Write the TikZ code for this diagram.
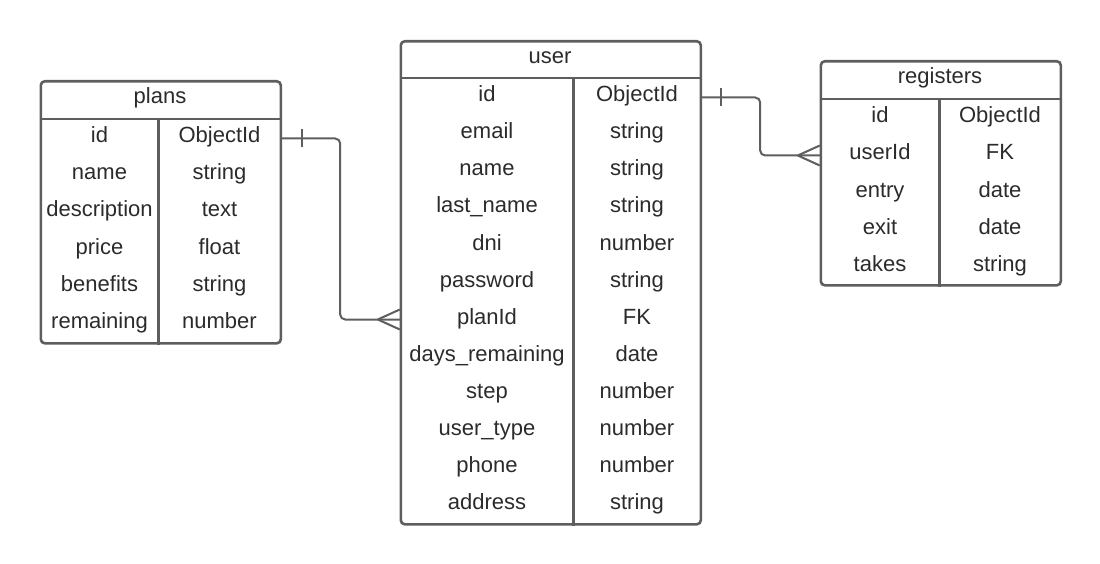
\documentclass[tikz,border=0pt]{standalone}
\usepackage{fontspec}
\setmainfont{Liberation Sans}
\definecolor{linec}{HTML}{5E5E5E}
\definecolor{txt}{HTML}{2B2B2B}
\begin{document}
\begin{tikzpicture}[x=1pt,y=-1pt,
  tbl/.style={draw=linec, line width=2.6pt, rounded corners=4pt, inner sep=0pt, anchor=north west},
  sep/.style={draw=linec, line width=2.6pt},
  cell/.style={inner sep=0pt, minimum height=37pt, text height=15pt, text depth=6pt, text=txt, font=\fontsize{22}{26}\selectfont},
  conn/.style={draw=linec, line width=2pt},
]
\useasboundingbox (0,0) rectangle (1100,564);

% ---- plans ----
\node[tbl, minimum width=240pt, minimum height=262pt] (plans) at (39.5,80) {};
\node[cell] (plans-h) at (160,99) {plans};
\draw[sep] ([yshift=-39pt]plans.north west) -- ([yshift=-39pt]plans.north east);
\draw[sep] ([xshift=119pt,yshift=-39pt]plans.north west) -- ([xshift=119pt]plans.south west);
\foreach [count=\i] \a/\b in {id/ObjectId, name/string, description/text, price/float, benefits/string, remaining/number} {
  \node[cell, minimum width=119pt] (plans-n\i) at (99.5,{119+37*\i-17.5}) {\a};
  \node[cell, minimum width=121pt] (plans-t\i) at (219.5,{119+37*\i-17.5}) {\b};
}

% ---- user ----
\node[tbl, minimum width=300pt, minimum height=483pt] (user) at (399.5,40) {};
\node[cell] (user-h) at (550,59) {user};
\draw[sep] ([yshift=-38pt]user.north west) -- ([yshift=-38pt]user.north east);
\draw[sep] ([xshift=174pt,yshift=-38pt]user.north west) -- ([xshift=174pt]user.south west);
\foreach [count=\i] \a/\b in {id/ObjectId, email/string, name/string, last\_name/string, dni/number, password/string, planId/FK, days\_remaining/date, step/number, user\_type/number, phone/number, address/string} {
  \node[cell, minimum width=174pt] (user-n\i) at (487,{78+37*\i-17.5}) {\a};
  \node[cell, minimum width=126pt] (user-t\i) at (637,{78+37*\i-17.5}) {\b};
}

% ---- registers ----
\node[tbl, minimum width=240pt, minimum height=224pt] (reg) at (819.5,60) {};
\node[cell] (reg-h) at (940,79) {registers};
\draw[sep] ([yshift=-39pt]reg.north west) -- ([yshift=-39pt]reg.north east);
\draw[sep] ([xshift=120pt,yshift=-39pt]reg.north west) -- ([xshift=120pt]reg.south west);
\foreach [count=\i] \a/\b in {id/ObjectId, userId/FK, entry/date, exit/date, takes/string} {
  \node[cell, minimum width=120pt] (reg-n\i) at (880,{99+37*\i-17.5}) {\a};
  \node[cell, minimum width=120pt] (reg-t\i) at (1000,{99+37*\i-17.5}) {\b};
}

% ---- connectors ----
% plans.id -> user.planId (one to many)
\draw[conn, rounded corners=5pt] (plans-t1.east) -- ++(60,0) |- (user-n7.west);
\draw[conn] ([xshift=22pt,yshift=-9pt]plans-t1.east) -- ([xshift=22pt,yshift=9pt]plans-t1.east);
\draw[conn] ([xshift=-22pt]user-n7.west) -- ([yshift=10pt]user-n7.west);
\draw[conn] ([xshift=-22pt]user-n7.west) -- ([yshift=-10pt]user-n7.west);

% user.id -> registers.userId (one to many)
\draw[conn, rounded corners=5pt] (user-t1.east) -- ++(60,0) |- (reg-n2.west);
\draw[conn] ([xshift=21pt,yshift=-9pt]user-t1.east) -- ([xshift=21pt,yshift=9pt]user-t1.east);
\draw[conn] ([xshift=-22pt]reg-n2.west) -- ([yshift=10pt]reg-n2.west);
\draw[conn] ([xshift=-22pt]reg-n2.west) -- ([yshift=-10pt]reg-n2.west);
\end{tikzpicture}
\end{document}
